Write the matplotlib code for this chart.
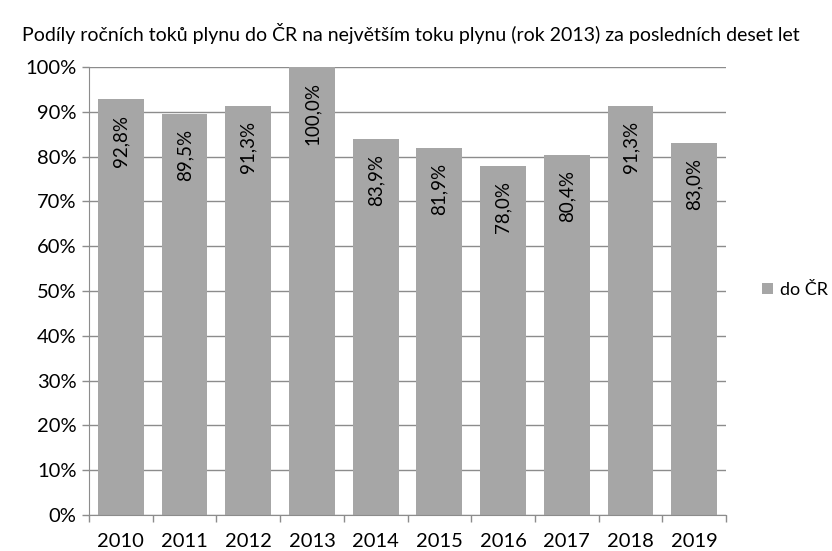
import matplotlib
matplotlib.use("Agg")
import matplotlib.pyplot as plt
from matplotlib.ticker import FuncFormatter, MultipleLocator

years = ["2010", "2011", "2012", "2013", "2014", "2015", "2016", "2017", "2018", "2019"]
values = [92.8, 89.5, 91.3, 100.0, 83.9, 81.9, 78.0, 80.4, 91.3, 83.0]
series_name = "do ČR"
title = "Podíly ročních toků plynu do ČR na největším toku plynu (rok 2013) za posledních deset let"

plt.rcParams['font.family'] = ['Lato', 'DejaVu Sans']

fig = plt.figure(figsize=(8.32, 5.51), dpi=100)
ax = fig.add_axes([89/832, 1-515/551, (726-89)/832, (515-67)/551])

bar_color = "#A6A6A6"
grid_color = "#8C8C8C"
x = list(range(len(years)))
bars = ax.bar(x, values, width=0.72, color=bar_color, zorder=2, label=series_name)

for xi, v in zip(x, values):
    ax.annotate(f"{v:.1f}%".replace(".", ","), xy=(xi, v), xytext=(0, -11),
                textcoords="offset points", rotation=90, ha="center", va="top",
                fontsize=13.5, color="black", zorder=3)

ax.set_xlim(-0.5, len(years) - 0.5)
ax.set_ylim(0, 100)
ax.yaxis.set_major_locator(MultipleLocator(10))
ax.yaxis.set_major_formatter(FuncFormatter(lambda v, p: f"{v:.0f}%"))
ax.yaxis.grid(True, color=grid_color, linewidth=1, zorder=1)
ax.set_axisbelow(True)

ax.set_xticks(x)
ax.set_xticklabels(years)
ax.set_xticks([i - 0.5 for i in range(len(years) + 1)], minor=True)
ax.tick_params(axis="x", which="major", length=0, labelsize=14.5, pad=13)
ax.tick_params(axis="x", which="minor", length=5, color=grid_color, width=1)
ax.tick_params(axis="y", length=5, color=grid_color, width=1, labelsize=14.5, pad=4)

for s in ["top", "right"]:
    ax.spines[s].set_visible(False)
ax.spines["left"].set_color(grid_color)
ax.spines["bottom"].set_color(grid_color)

fig.text(22/832, 1-34/551, title, fontsize=14, ha="left", va="center")

fig.legend(handles=[bars], labels=[series_name], loc="center left",
           bbox_to_anchor=(762/832, 1-290/551), frameon=False, fontsize=13,
           handlelength=0.6, handleheight=0.6, handletextpad=0.4,
           borderpad=0, borderaxespad=0)

fig.savefig("out.png", dpi=100)
